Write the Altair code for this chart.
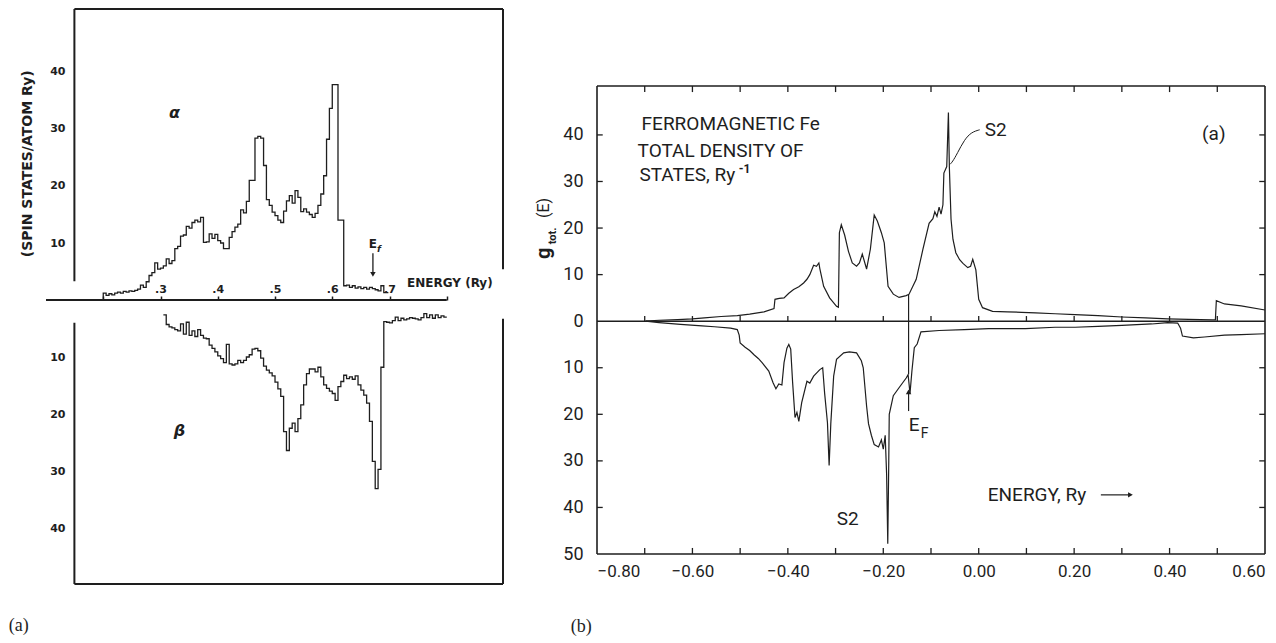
import altair as alt
import pandas as pd

INK = "#1e1e1e"
FA = "DejaVu Sans"
FB = "Roboto"
FSERIF = "Liberation Serif, DejaVu Serif, serif"

# ---------------- panel (a): spin-resolved histograms ----------------
bin_width = 0.005
alpha_start = 0.200
alpha_end = 0.698
alpha_dos = [1.2, 0.8, 1.1, 0.9, 1.2, 1.4, 1.2, 1.5, 1.4, 1.6,
             1.5, 1.7, 1.9, 2.6, 2.2, 3.2, 4.3, 4.8, 6.5, 5.4,
             5.6, 6.0, 7.2, 6.4, 6.9, 9.0, 9.4, 11.2, 11.4, 12.9,
             12.6, 13.6, 14.0, 13.7, 14.5, 10.1, 10.2, 11.6, 10.8, 11.5,
             10.4, 10.0, 9.0, 9.0, 11.0, 12.0, 12.8, 13.3, 15.8, 15.3,
             17.3, 21.0, 21.0, 28.4, 28.7, 28.4, 23.6, 17.6, 16.6, 15.4,
             14.8, 14.0, 13.6, 15.6, 17.4, 18.3, 17.0, 19.2, 18.0, 15.5,
             16.0, 15.4, 15.0, 14.5, 15.2, 16.6, 18.6, 21.8, 28.2, 33.6,
             37.8, 37.8, 14.0, 14.0, 2.5, 2.6, 2.2, 2.5, 2.1, 2.3,
             2.0, 2.2, 1.9, 2.2, 2.0, 1.8, 1.6, 2.5, 1.3, 1.3]
beta_start = 0.305
beta_end = 0.800
beta_dos = [2.6, 4.3, 4.7, 4.9, 5.2, 5.4, 4.2, 6.0, 3.9, 6.2,
            5.4, 6.4, 5.2, 6.2, 6.7, 6.8, 7.9, 8.5, 9.1, 9.8,
            10.3, 11.0, 7.8, 11.2, 11.4, 11.2, 10.6, 11.0, 10.6, 10.0,
            9.6, 8.6, 8.5, 8.9, 10.2, 11.6, 12.3, 12.8, 13.3, 14.4,
            15.6, 16.9, 23.1, 26.4, 22.5, 21.6, 23.1, 20.8, 18.4, 14.9,
            12.9, 12.1, 12.1, 12.6, 11.8, 13.5, 14.9, 15.5, 16.0, 16.4,
            17.6, 15.2, 14.3, 13.2, 13.8, 13.5, 13.9, 13.3, 14.9, 15.8,
            16.7, 18.1, 21.3, 28.3, 33.1, 29.7, 11.8, 3.8, 3.9, 4.0,
            3.6, 3.0, 3.6, 3.2, 3.5, 3.3, 3.1, 3.2, 3.3, 3.5,
            3.1, 2.4, 3.1, 2.6, 3.2, 2.6, 3.1, 2.8, 3.0]
a_ticks = [0.2, 0.3, 0.4, 0.5, 0.6, 0.7, 0.8]
a_y_ticks = [-40, -30, -20, -10, 10, 20, 30, 40]

# ---------------- panel (b): total DOS of ferromagnetic Fe ----------------
up_energy = [-0.698, -0.67, -0.631, -0.60, -0.575, -0.54, -0.506, -0.48, -0.45, -0.429,
             -0.427, -0.418, -0.408, -0.398, -0.388, -0.377, -0.367, -0.36, -0.354, -0.346,
             -0.340, -0.335, -0.333, -0.325, -0.3125, -0.298, -0.294, -0.292, -0.288, -0.281,
             -0.273, -0.265, -0.256, -0.25, -0.244, -0.235, -0.227, -0.221, -0.219, -0.2125,
             -0.204, -0.198, -0.19, -0.179, -0.167, -0.152, -0.146, -0.131, -0.117, -0.104,
             -0.096, -0.092, -0.0875, -0.083, -0.079, -0.075, -0.073, -0.067, -0.0635, -0.0615,
             -0.058, -0.054, -0.048, -0.04, -0.033, -0.023, -0.017, -0.0125, -0.006, 0.0,
             0.008, 0.029, 0.06, 0.09, 0.119, 0.16, 0.202, 0.25, 0.30, 0.35,
             0.396, 0.44, 0.49, 0.496, 0.498, 0.515, 0.55, 0.60]
up_dos = [0.0, 0.2, 0.35, 0.5, 0.7, 1.0, 1.2, 1.5, 2.0, 2.7,
          4.7, 4.9, 5.0, 6.0, 6.8, 7.4, 8.2, 9.0, 10.0, 12.0,
          11.8, 12.5, 11.3, 7.5, 5.0, 3.2, 3.0, 19.0, 20.7, 18.5,
          15.0, 12.5, 11.8, 12.5, 14.4, 11.2, 15.5, 21.0, 22.8, 21.5,
          19.0, 16.8, 7.5, 5.8, 5.1, 5.5, 5.8, 9.0, 15.4, 21.0,
          22.0, 23.5, 22.5, 24.5, 23.0, 25.0, 31.8, 33.2, 44.8, 33.0,
          21.9, 17.6, 14.7, 13.2, 12.4, 11.5, 11.8, 13.3, 11.0, 4.7,
          2.9, 2.1, 2.0, 1.9, 1.8, 1.6, 1.4, 1.2, 0.9, 0.7,
          0.5, 0.4, 0.3, 0.3, 4.4, 3.7, 3.3, 2.4]
dn_energy = [-0.698, -0.67, -0.625, -0.58, -0.554, -0.52, -0.506, -0.502, -0.5, -0.4896,
             -0.48, -0.471, -0.462, -0.454, -0.44, -0.431, -0.425, -0.419, -0.4125, -0.408,
             -0.402, -0.398, -0.394, -0.39, -0.385, -0.381, -0.377, -0.371, -0.36, -0.354,
             -0.346, -0.333, -0.327, -0.323, -0.317, -0.3135, -0.31, -0.304, -0.298, -0.283,
             -0.271, -0.256, -0.246, -0.242, -0.235, -0.231, -0.225, -0.219, -0.21, -0.204,
             -0.2, -0.196, -0.193, -0.1906, -0.1885, -0.1875, -0.179, -0.167, -0.152, -0.148,
             -0.144, -0.14, -0.135, -0.129, -0.121, -0.083, -0.03, 0.021, 0.06, 0.098,
             0.16, 0.202, 0.25, 0.30, 0.3625, 0.396, 0.417, 0.423, 0.427, 0.45,
             0.473, 0.515, 0.55, 0.60]
dn_dos = [0.0, 0.3, 0.7, 1.0, 1.2, 1.5, 1.8, 3.0, 4.7, 5.6,
          6.3, 7.2, 8.0, 8.9, 10.7, 13.2, 14.5, 13.5, 13.7, 8.9,
          5.8, 5.0, 6.0, 13.2, 20.7, 19.6, 21.5, 17.5, 12.9, 13.3,
          11.8, 10.4, 10.0, 15.4, 21.8, 31.0, 22.0, 11.8, 8.2, 6.8,
          6.6, 6.8, 8.5, 10.0, 18.2, 22.0, 24.5, 26.5, 27.0, 25.5,
          27.5, 24.5, 33.0, 47.8, 30.0, 20.0, 16.0, 14.3, 12.2, 11.5,
          15.5, 10.7, 5.7, 4.9, 2.3, 2.0, 1.8, 1.6, 1.6, 1.6,
          1.3, 1.3, 1.1, 0.9, 0.6, 0.3, 0.4, 1.5, 3.2, 3.6,
          3.4, 3.0, 2.9, 2.7]
b_x_ticks = [-0.8, -0.6, -0.4, -0.2, 0.0, 0.2, 0.4, 0.6]
b_minor = [-0.7, -0.6, -0.5, -0.4, -0.3, -0.2, -0.1, 0.0, 0.1, 0.2, 0.3, 0.4, 0.5]
b_y_ticks = [-50, -40, -30, -20, -10, 0, 10, 20, 30, 40]
e_fermi = -0.147

# =============== panel (a) construction ===============
A_X0, A_X1 = 0.1, 0.8982
A_Y0, A_Y1 = -49.82, 51.05
A_LEFT = 0.1496
sxA = alt.Scale(domain=[A_X0, A_X1], nice=False, zero=False)
syA = alt.Scale(domain=[A_Y0, A_Y1], nice=False, zero=False)
axAx = alt.Axis(orient="top", offset=-291, values=a_ticks, domain=False, grid=False, title=None,
                tickSize=4, tickWidth=1.5, tickColor=INK,
                labelExpr="datum.value < 0.25 || datum.value > 0.75 ? '' : replace(format(datum.value, '.1f'), '0.', '.')",
                labelFont=FA, labelFontSize=11, labelFontWeight="bold", labelColor=INK, labelPadding=2)
axAy = alt.Axis(orient="left", offset=-28, values=a_y_ticks, domain=False, grid=False, ticks=False, title=None,
                labelExpr="format(abs(datum.value), 'd')", labelFont=FA, labelFontSize=11,
                labelFontWeight="bold", labelColor=INK, labelPadding=9)


def XA(f):
    return alt.X(f, type="quantitative", scale=sxA, axis=axAx)


def YA(f):
    return alt.Y(f, type="quantitative", scale=syA, axis=axAy)


def textA(x, y, t, **kw):
    return alt.Chart(pd.DataFrame({"x": [x], "y": [y], "t": [t]})).mark_text(color=INK, **kw).encode(
        x=XA("x"), y=YA("y"), text="t:N")


a_alpha_df = pd.DataFrame({
    "E": [alpha_start] + [round(alpha_start + i * bin_width, 4) for i in range(len(alpha_dos))] + [alpha_end],
    "v": [0.0] + alpha_dos + [alpha_dos[-1]],
})
a_beta_df = pd.DataFrame({
    "E": [round(beta_start + i * bin_width, 4) for i in range(len(beta_dos))] + [beta_end],
    "v": [-b for b in beta_dos] + [-beta_dos[-1]],
})

alpha_line = alt.Chart(a_alpha_df).mark_line(interpolate="step-after", color=INK, strokeWidth=1.3).encode(
    x=XA("E"), y=YA("v"))
beta_line = alt.Chart(a_beta_df).mark_line(interpolate="step-after", color=INK, strokeWidth=1.3).encode(
    x=XA("E"), y=YA("v"))

a_frame_df = pd.DataFrame({
    "x": [A_LEFT, A_LEFT, A_LEFT, A_LEFT, A_X1, A_X1, 0.1],
    "x2": [A_X1, A_X1, A_LEFT, A_LEFT, A_X1, A_X1, 0.8],
    "y": [A_Y1, A_Y0, A_Y1, -4.0, A_Y1, -3.3, 0.0],
    "y2": [A_Y1, A_Y0, 3.3, A_Y0, 5.4, A_Y0, 0.0],
})
a_frame = alt.Chart(a_frame_df).mark_rule(color=INK, strokeWidth=2).encode(
    x=XA("x"), x2="x2", y=YA("y"), y2="y2")

a_title = textA(0.068, 23.9, "(SPIN STATES/ATOM Ry)", angle=270, font=FA, fontSize=14, fontWeight="bold",
                align="center", baseline="middle")
a_alpha_lbl = textA(0.3243, 32.8, "α", font=FA, fontSize=16, fontStyle="italic", fontWeight="bold")
a_beta_lbl = textA(0.333, -23.0, "β", font=FA, fontSize=16, fontStyle="italic", fontWeight="bold")
a_energy = textA(0.7306, 3.0, "ENERGY (Ry)", font=FA, fontSize=12, fontWeight="bold", align="left",
                 baseline="middle")
a_ef = textA(0.671, 9.9, "E", font=FA, fontSize=12, fontWeight="bold")
a_ef_sub = textA(0.6815, 8.9, "f", font=FA, fontSize=9, fontWeight="bold", fontStyle="italic")
a_arrow = alt.Chart(pd.DataFrame({"x": [0.671], "y": [8.2], "y2": [4.6]})).mark_rule(
    color=INK, strokeWidth=1.3).encode(x=XA("x"), y=YA("y"), y2="y2")
a_head = alt.Chart(pd.DataFrame({"x": [0.671], "y": [4.5]})).mark_point(
    shape="triangle-down", filled=True, size=30, color=INK, opacity=1).encode(x=XA("x"), y=YA("y"))
a_caption = textA(0.0348, -57.2, "(a)", font=FSERIF, fontSize=18, align="left", baseline="middle")

panelA = alt.layer(alpha_line, beta_line, a_frame, a_title, a_alpha_lbl, a_beta_lbl, a_energy, a_ef, a_ef_sub,
                   a_arrow, a_head, a_caption).properties(width=457, height=575)

# =============== panel (b) construction ===============
B_X0, B_X1 = -0.8, 0.6
B_Y0, B_Y1 = -56.44, 67.04
F_TOP, F_BOT = 50.5, -50.0
sxB = alt.Scale(domain=[B_X0, B_X1], nice=False, zero=False)
syB = alt.Scale(domain=[B_Y0, B_Y1], nice=False, zero=False)
axBx = alt.Axis(orient="bottom", offset=-30, values=b_x_ticks, domain=False, grid=False, ticks=False,
                title=None, format=".2f", labelFont=FB, labelFontSize=17, labelColor=INK, labelPadding=9,
                labelFlush=True)
axBy = alt.Axis(orient="left", values=b_y_ticks, domain=False, grid=False, ticks=False, title=None,
                labelExpr="format(abs(datum.value), 'd')", labelFont=FB, labelFontSize=18,
                labelColor=INK, labelPadding=14)


def XB(f):
    return alt.X(f, type="quantitative", scale=sxB, axis=axBx)


def YB(f):
    return alt.Y(f, type="quantitative", scale=syB, axis=axBy)


def textB(x, y, t, **kw):
    return alt.Chart(pd.DataFrame({"x": [x], "y": [y], "t": [t]})).mark_text(color=INK, **kw).encode(
        x=XB("x"), y=YB("y"), text="t:N")


up_df = pd.DataFrame({"E": up_energy, "v": up_dos})
dn_df = pd.DataFrame({"E": dn_energy, "v": [-d for d in dn_dos]})
up_line = alt.Chart(up_df).mark_line(color=INK, strokeWidth=1.2).encode(x=XB("E"), y=YB("v"))
dn_line = alt.Chart(dn_df).mark_line(color=INK, strokeWidth=1.2).encode(x=XB("E"), y=YB("v"))

b_frame_df = pd.DataFrame({
    "x": [B_X0, B_X0, B_X0, B_X1, B_X0],
    "x2": [B_X1, B_X1, B_X0, B_X1, B_X1],
    "y": [F_TOP, F_BOT, F_TOP, F_TOP, 0.0],
    "y2": [F_TOP, F_BOT, F_BOT, F_BOT, 0.0],
})
b_frame = alt.Chart(b_frame_df).mark_rule(color=INK, strokeWidth=1.6).encode(
    x=XB("x"), x2="x2", y=YB("y"), y2="y2")

tick_rows = []
for t in b_minor:
    tick_rows.append({"x": t, "x2": t, "y": F_BOT, "y2": F_BOT + 1.3})
    tick_rows.append({"x": t, "x2": t, "y": F_TOP, "y2": F_TOP - 1.3})
    tick_rows.append({"x": t, "x2": t, "y": 0.0, "y2": 1.1})
for t in b_y_ticks:
    if F_BOT < t < F_TOP and t != 0:
        tick_rows.append({"x": B_X0, "x2": B_X0 + 0.012, "y": t, "y2": t})
        tick_rows.append({"x": B_X1, "x2": B_X1 - 0.012, "y": t, "y2": t})
b_ticks = alt.Chart(pd.DataFrame(tick_rows)).mark_rule(color=INK, strokeWidth=1.3).encode(
    x=XB("x"), x2="x2", y=YB("y"), y2="y2")

b_ef_line = alt.Chart(pd.DataFrame({"x": [e_fermi], "y": [5.8], "y2": [-11.4]})).mark_rule(
    color=INK, strokeWidth=1.2).encode(x=XB("x"), y=YB("y"), y2="y2")
b_ef_arrow = alt.Chart(pd.DataFrame({"x": [e_fermi], "y": [-19.3], "y2": [-15.5]})).mark_rule(
    color=INK, strokeWidth=1.2).encode(x=XB("x"), y=YB("y"), y2="y2")
b_ef_head = alt.Chart(pd.DataFrame({"x": [e_fermi], "y": [-15.2]})).mark_point(
    shape="triangle-up", filled=True, size=30, color=INK, opacity=1).encode(x=XB("x"), y=YB("y"))

leader_df = pd.DataFrame({"E": [-0.061, -0.055, -0.045, -0.03, -0.015, 0.002],
                          "v": [33.6, 34.2, 36.0, 39.0, 40.6, 41.1]})
b_leader = alt.Chart(leader_df).mark_line(color=INK, strokeWidth=1.0, interpolate="basis").encode(
    x=XB("E"), y=YB("v"))

b_t1 = textB(-0.7065, 42.4, "FERROMAGNETIC  Fe", font=FB, fontSize=19, align="left", baseline="middle")
b_t2 = textB(-0.715, 36.6, "TOTAL  DENSITY  OF", font=FB, fontSize=19, align="left", baseline="middle")
b_t3 = textB(-0.711, 31.3, "STATES,  Ry", font=FB, fontSize=19, align="left", baseline="middle")
b_sup = textB(-0.503, 32.7, "-1", font=FB, fontSize=12, fontWeight="bold", align="left", baseline="middle")
b_s2a = textB(0.0126, 41.1, "S2", font=FB, fontSize=19, align="left", baseline="middle")
b_pa = textB(0.4927, 40.3, "(a)", font=FB, fontSize=19, align="center", baseline="middle")
b_s2b = textB(-0.2746, -42.4, "S2", font=FB, fontSize=19, align="center", baseline="middle")
b_en = textB(0.0189, -37.3, "ENERGY,  Ry", font=FB, fontSize=19, align="left", baseline="middle")
b_efE = textB(-0.1468, -22.2, "E", font=FB, fontSize=19, align="left", baseline="middle")
b_efF = textB(-0.1216, -24.3, "F", font=FB, fontSize=14, align="left", baseline="middle")
b_en_arrow = alt.Chart(pd.DataFrame({"x": [0.256], "x2": [0.317], "y": [-37.3]})).mark_rule(
    color=INK, strokeWidth=1.2).encode(x=XB("x"), x2="x2", y=YB("y"))
b_en_head = alt.Chart(pd.DataFrame({"x": [0.318], "y": [-37.3]})).mark_point(
    shape="triangle-right", filled=True, size=30, color=INK, opacity=1).encode(x=XB("x"), y=YB("y"))

b_yt1 = textB(-0.912, 14.6, "g", angle=270, font=FB, fontSize=20, fontWeight="bold", align="center",
              baseline="middle")
b_yt2 = textB(-0.893, 18.3, "tot.", angle=270, font=FB, fontSize=11, fontWeight="bold", align="center",
              baseline="middle")
b_yt3 = textB(-0.912, 24.3, "(E)", angle=270, font=FB, fontSize=16, align="center", baseline="middle")
b_caption = textB(-0.855, -65.7, "(b)", font=FSERIF, fontSize=18, align="left", baseline="middle")

panelB = alt.layer(up_line, dn_line, b_frame, b_ticks, b_ef_line, b_ef_arrow, b_ef_head, b_leader,
                   b_t1, b_t2, b_t3, b_sup, b_s2a, b_pa, b_s2b, b_en, b_efE, b_efF, b_en_arrow, b_en_head,
                   b_yt1, b_yt2, b_yt3, b_caption).properties(width=668, height=575)

chart = alt.hconcat(panelA, panelB, spacing=94, bounds="flush", padding=0, background="white").configure_view(
    stroke=None).configure_axis(labelOverlap=False)

chart.save("out.html", embed_options={"renderer": "svg", "actions": False})
